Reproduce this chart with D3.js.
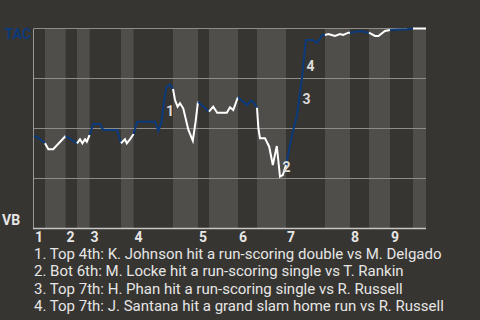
<!DOCTYPE html>
<html>
<head>
<meta charset="utf-8">
<script src="https://cdn.jsdelivr.net/npm/d3@7"></script>
<style>
  html, body { margin: 0; padding: 0; background: #373531; }
  #chart { width: 480px; height: 320px; }
</style>
</head>
<body>
<div id="chart"></div>
<script>
// win probability for TAC, x = play count through the game
const halfInningStarts = [0, 2.75, 7.9, 10.75, 13.9, 21.75, 24.9, 34.75, 41, 43.75, 51, 55.75, 63, 72.75, 79, 83.75, 89, 94.75, 98];
const innings = ["1", "2", "3", "4", "5", "6", "7", "8", "9"];
const winProb = [
  [0, 0.4625], [1.1, 0.454], [2.75, 0.426],
  [3.6, 0.396], [4.8, 0.396], [7.9, 0.4625],
  [10.75, 0.426],
  [11.5, 0.446], [12.1, 0.426], [12.75, 0.446], [13.2, 0.434], [13.9, 0.4675],
  [14.8, 0.5225], [16.5, 0.5225], [17.3, 0.4925], [20.8, 0.4925], [21.75, 0.426],
  [22.75, 0.446], [23.2, 0.426], [24, 0.446], [24.9, 0.4725],
  [25.8, 0.534], [30.25, 0.534], [31.1, 0.4875], [31.9, 0.534], [32.3, 0.601], [33, 0.701], [34, 0.721], [34.75, 0.6975],
  [35.25, 0.6425], [35.9, 0.609], [36.5, 0.626], [37.3, 0.601], [38.6, 0.4925], [39.7, 0.439], [40.4, 0.534], [41, 0.634],
  [43.75, 0.584],
  [44.8, 0.609], [45.8, 0.579], [48.2, 0.579], [49, 0.606], [49.8, 0.5925], [51, 0.6575],
  [53.2, 0.6175], [54.2, 0.6375], [54.8, 0.634], [55.75, 0.604],
  [56.1, 0.501], [56.5, 0.451], [57.75, 0.451], [58.8, 0.409], [59.7, 0.3175], [60.7, 0.4125], [61.5, 0.259], [62.2, 0.2675], [63, 0.3175],
  [64.5, 0.4675], [65.75, 0.5675], [67, 0.7525], [67.9, 0.9325], [68, 0.9425], [69.75, 0.9425], [70.75, 0.9275], [72.1, 0.9675], [72.75, 0.9675],
  [73.6, 0.9725], [74.4, 0.9675], [75.25, 0.9625], [76.5, 0.9725], [77.3, 0.9675], [78.6, 0.979], [79, 0.979],
  [81.5, 0.9875], [83.6, 0.979], [83.75, 0.979],
  [85.25, 0.9625], [86.1, 0.9625], [87.75, 0.9875], [89, 0.9925],
  [93.2, 0.996], [94.75, 1.0],
  [98, 1.0]
];
const yTicks = [0, 0.25, 0.5, 0.75, 1];
const teams = { top: "TAC", bottom: "VB" };
// big plays: label anchor (play, prob) and description
const markers = [[34, 0.5875], [63.1, 0.3075], [68.1, 0.646], [69.1, 0.815]];
const notes = [
  "1. Top 4th: K. Johnson hit a run-scoring double vs M. Delgado",
  "2. Bot 6th: M. Locke hit a run-scoring single vs T. Rankin",
  "3. Top 7th: H. Phan hit a run-scoring single vs R. Russell",
  "4. Top 7th: J. Santana hit a grand slam home run vs R. Russell"
];

(function() {
    const margin = { top: 28.5, right: 54, bottom: 91.5, left: 34 },
        width = 480 - margin.left - margin.right,
        height = 320 - margin.top - margin.bottom;

    const svg = d3.select("#chart")
        .append("svg")
        .attr("width", 480)
        .attr("height", 320)
        .style("font-family", "Roboto, sans-serif");

    svg.append("rect").attr("width", 480).attr("height", 320).attr("fill", "#373531");

    const g = svg.append("g")
        .attr("transform", `translate(${margin.left},${margin.top})`);

    const x = d3.scaleLinear().domain([0, 98]).range([0, width]);
    const y = d3.scaleLinear().domain([0, 1]).range([height, 0]);

    // shaded bottom halves
    const halves = d3.pairs(halfInningStarts);
    g.selectAll("rect.band")
        .data(halves.filter((d, i) => i % 2 === 1))
        .enter().append("rect")
        .attr("class", "band")
        .attr("x", d => x(d[0]))
        .attr("width", d => x(d[1]) - x(d[0]))
        .attr("y", 0)
        .attr("height", height)
        .attr("fill", "#504e4b");

    // horizontal grid
    g.selectAll("line.grid")
        .data(yTicks.slice(1))
        .enter().append("line")
        .attr("x1", 0).attr("x2", width)
        .attr("y1", d => Math.round(y(d)))
        .attr("y2", d => Math.round(y(d)))
        .attr("stroke", "#8e8c89")
        .attr("stroke-width", 1);

    // axes lines
    g.append("line")
        .attr("x1", -0.5).attr("x2", -0.5)
        .attr("y1", 0).attr("y2", height)
        .attr("stroke", "#9a9896");
    g.append("line")
        .attr("x1", -1).attr("x2", width)
        .attr("y1", height).attr("y2", height)
        .attr("stroke", "#c8c6c4").attr("stroke-width", 1.5);

    // win probability line, coloured by who is batting
    const line = d3.line().x(d => x(d[0])).y(d => y(d[1]));
    halves.forEach((h, i) => {
        const pts = winProb.filter(d => d[0] >= h[0] && d[0] <= h[1]);
        g.append("path")
            .datum(pts)
            .attr("d", line)
            .attr("fill", "none")
            .attr("stroke", i % 2 === 0 ? "#0b3a7c" : "#ffffff")
            .attr("stroke-width", 2);
    });

    // event markers
    g.selectAll("text.marker")
        .data(markers)
        .enter().append("text")
        .attr("x", d => x(d[0]))
        .attr("y", d => y(d[1]))
        .attr("dy", "0.36em")
        .attr("text-anchor", "middle")
        .attr("font-size", 14)
        .attr("font-weight", "bold")
        .attr("fill", "#dcdcdc")
        .text((d, i) => i + 1);

    // inning labels
    g.selectAll("text.inning")
        .data(innings)
        .enter().append("text")
        .attr("x", (d, i) => x(halfInningStarts[i * 2]) + 1)
        .attr("y", height + 13.5)
        .attr("font-size", 14)
        .attr("font-weight", "bold")
        .attr("fill", "#e6e6e6")
        .text(d => d);

    // team labels
    svg.append("text")
        .attr("x", 31).attr("y", margin.top + y(1) + 10)
        .attr("text-anchor", "end")
        .attr("font-size", 14).attr("font-weight", "bold")
        .attr("fill", "#0b3a7c")
        .text(teams.top);
    svg.append("text")
        .attr("x", 2).attr("y", 225)
        .attr("font-size", 14).attr("font-weight", "bold")
        .attr("fill", "#e6e6e6")
        .text(teams.bottom);

    // notes
    svg.selectAll("text.note")
        .data(notes)
        .enter().append("text")
        .attr("x", 34)
        .attr("y", (d, i) => 258.5 + i * 17.6)
        .attr("font-size", 15)
        .attr("fill", "#e6e6e6")
        .text(d => d);
})();
</script>
</body>
</html>
